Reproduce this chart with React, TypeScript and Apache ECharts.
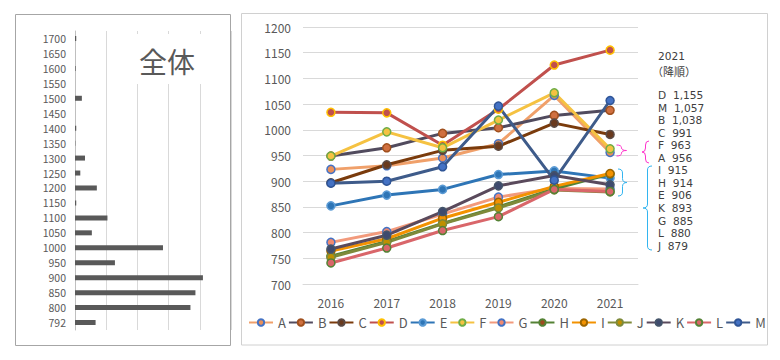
import React, { useEffect, useRef } from 'react';
import * as echarts from 'echarts';

const FONT = '"Noto Sans CJK JP", "Noto Sans", sans-serif';
const LIST_FONT = '"DejaVu Sans", sans-serif';

// ---- line chart data ----
const years = ['2016', '2017', '2018', '2019', '2020', '2021'];
const names = ['A', 'B', 'C', 'D', 'E', 'F', 'G', 'H', 'I', 'J', 'K', 'L', 'M'];
const valuesA = [923, 930, 945, 973, 1067, 956];
const valuesB = [949, 965, 993, 1004, 1028, 1038];
const valuesC = [897, 932, 960, 968, 1013, 991];
const valuesD = [1034, 1033, 970, 1040, 1126, 1155];
const valuesE = [852, 873, 884, 913, 920, 906];
const valuesF = [949, 996, 965, 1019, 1072, 963];
const valuesG = [781, 802, 836, 869, 886, 885];
const valuesH = [754, 783, 818, 850, 885, 914];
const valuesI = [764, 788, 828, 859, 890, 915];
const valuesJ = [752, 781, 817, 848, 883, 879];
const valuesK = [768, 795, 841, 891, 911, 893];
const valuesL = [741, 770, 804, 831, 884, 880];
const valuesM = [896, 900, 928, 1046, 902, 1057];
const seriesValues = [valuesA, valuesB, valuesC, valuesD, valuesE, valuesF, valuesG, valuesH, valuesI, valuesJ, valuesK, valuesL, valuesM];

// ---- histogram (全体) data ----
const histCategories = ['792', '800', '850', '900', '950', '1000', '1050', '1100', '1150', '1200', '1250', '1300', '1350', '1400', '1450', '1500', '1550', '1600', '1650', '1700'];
const histValues = [3.3, 18.5, 19.3, 20.5, 6.4, 14.1, 2.7, 5.2, 0.2, 3.5, 0.85, 1.6, 0.05, 0.2, 0, 1.1, 0, 0.1, 0, 0.2];

// ---- styles ----
const lineColors = ['#F0A06A', '#514B5E', '#7A3B0C', '#C0504D', '#2E75B6', '#F5C242', '#F29A7C', '#548235', '#F39200', '#7E8A3A', '#5A4A5C', '#D9666A', '#3E5B8A'];
const markerFill = ['#E9905A', '#D07040', '#6A3A1E', '#C0504D', '#2E75B6', '#F5C242', '#F08A70', '#9E4A1E', '#F39200', '#BF9000', '#3E4A6E', '#D9666A', '#4472C4'];
const markerBorder = ['#4472C4', '#A0501E', '#5B4A44', '#FFC000', '#5B9BD5', '#70AD47', '#4472C4', '#548235', '#9C6500', '#7E8A3A', '#44546A', '#548235', '#2F5597'];

function braceD(x: number, y0: number, y1: number, ym: number, w: number, dir: number) {
  const h = w / 2;
  const r1 = Math.min(4, (ym - y0) / 2);
  const r2 = Math.min(4, (y1 - ym) / 2);
  const xm = x + dir * h;
  const xt = x + dir * w;
  return `M${x} ${y0} Q${xm} ${y0} ${xm} ${y0 + r1} L${xm} ${ym - r1} Q${xm} ${ym} ${xt} ${ym} Q${xm} ${ym} ${xm} ${ym + r2} L${xm} ${y1 - r2} Q${xm} ${y1} ${x} ${y1}`;
}

let registered = false;
function registerBraces() {
  if (registered) return;
  registered = true;
  echarts.graphic.registerShape('bracePinkR', echarts.graphic.extendPath(braceD(616.5, 145, 156, 150.5, 10, 1), {}) as any);
  echarts.graphic.registerShape('bracePinkL', echarts.graphic.extendPath(braceD(649, 141, 163, 152, 7, -1), {}) as any);
  echarts.graphic.registerShape('braceBlueR', echarts.graphic.extendPath(braceD(618, 169, 196, 182.5, 9, 1), {}) as any);
  echarts.graphic.registerShape('braceBlueL', echarts.graphic.extendPath(braceD(652, 166, 250, 208, 9, -1), {}) as any);
}

export default function App() {
  const ref = useRef<HTMLDivElement>(null);
  useEffect(() => {
    if (!ref.current) return;
    registerBraces();
    const chart = echarts.init(ref.current, undefined, { renderer: 'svg' });

    const ranked = names
      .map((n, i) => ({ n, v: seriesValues[i][seriesValues[i].length - 1] }))
      .sort((a, b) => b.v - a.v);

    const rankTexts = ranked.map((r, i) => ({
      type: 'text',
      x: 658,
      y: 95 + i * 12.55,
      z: 50,
      style: {
        text: `${r.n}\u00A0\u00A0${r.v.toLocaleString('en-US')}`,
        fill: '#404040',
        font: `10.6px ${LIST_FONT}`,
        verticalAlign: 'middle',
      },
    }));

    const lineSeries = names.map((n, i) => ({
      name: n,
      type: 'line',
      xAxisIndex: 1,
      yAxisIndex: 1,
      data: seriesValues[i],
      symbol: 'circle',
      symbolSize: 8,
      lineStyle: { color: lineColors[i], width: 3 },
      itemStyle: { color: markerFill[i], borderColor: markerBorder[i], borderWidth: 1.5 },
      emphasis: { disabled: true },
    }));

    chart.setOption({
      animation: false,
      textStyle: { fontFamily: FONT },
      grid: [
        { left: 75, top: 31, width: 156, height: 299 },
        { left: 303, top: 27, width: 335, height: 257 },
      ],
      xAxis: [
        {
          gridIndex: 0, type: 'value', min: 0, max: 25, interval: 5,
          axisLabel: { show: false }, axisLine: { show: false }, axisTick: { show: false },
          splitLine: { lineStyle: { color: '#D9D9D9', width: 1 } },
        },
        {
          gridIndex: 1, type: 'category', data: years, boundaryGap: true,
          axisLine: { lineStyle: { color: '#D9D9D9', width: 1 } }, axisTick: { show: false },
          axisLabel: { color: '#595959', fontSize: 12, margin: 12, fontFamily: FONT },
        },
      ],
      yAxis: [
        {
          gridIndex: 0, type: 'category', data: histCategories,
          axisLine: { lineStyle: { color: '#BFBFBF' } },
          axisTick: { lineStyle: { color: '#BFBFBF' }, length: 4 },
          axisLabel: { color: '#595959', fontSize: 10.5, margin: 9, fontFamily: FONT },
          splitLine: { show: false },
        },
        {
          gridIndex: 1, type: 'value', min: 700, max: 1200, interval: 50,
          axisLine: { show: false }, axisTick: { show: false },
          axisLabel: { color: '#595959', fontSize: 12, margin: 12, fontFamily: FONT, formatter: (v: number) => String(v) },
          splitLine: { lineStyle: { color: '#D9D9D9', width: 1 } },
        },
      ],
      legend: {
        data: names, left: 248, top: 316, width: 530, itemWidth: 24, itemHeight: 8, itemGap: 2, padding: 0,
        textStyle: { color: '#595959', fontSize: 13, fontFamily: FONT },
      },
      series: [
        {
          type: 'bar', xAxisIndex: 0, yAxisIndex: 0, data: histValues, barWidth: 5,
          itemStyle: { color: '#595959' }, emphasis: { disabled: true },
        },
        ...lineSeries,
      ],
      graphic: [
        { type: 'rect', z: 40, shape: { x: 15.5, y: 14.5, width: 215, height: 331 }, style: { fill: 'none', stroke: '#A6A6A6', lineWidth: 1 } },
        { type: 'rect', z: 40, shape: { x: 241.5, y: 13.5, width: 526, height: 331.5 }, style: { fill: 'none', stroke: '#D0D0D0', lineWidth: 1 } },
        { type: 'rect', z: 45, shape: { x: 118, y: 34, width: 100, height: 50 }, style: { fill: '#FFFFFF' } },
        { type: 'text', z: 50, x: 167, y: 61, style: { text: '全体', fill: '#595959', font: `28px ${FONT}`, align: 'center', verticalAlign: 'middle' } },
        { type: 'text', z: 50, x: 658, y: 56, style: { text: '2021', fill: '#404040', font: `10.6px ${LIST_FONT}`, verticalAlign: 'middle' } },
        { type: 'text', z: 50, x: 652, y: 70.5, style: { text: '（降順）', fill: '#404040', font: `11px ${FONT}`, verticalAlign: 'middle' } },
        ...rankTexts,
        { type: 'bracePinkR', z: 50, style: { fill: 'none', stroke: '#FF33CC', lineWidth: 1 } },
        { type: 'bracePinkL', z: 50, style: { fill: 'none', stroke: '#FF33CC', lineWidth: 1 } },
        { type: 'braceBlueR', z: 50, style: { fill: 'none', stroke: '#33B5F0', lineWidth: 1 } },
        { type: 'braceBlueL', z: 50, style: { fill: 'none', stroke: '#33B5F0', lineWidth: 1 } },
      ],
    });
    return () => chart.dispose();
  }, []);
  return <div ref={ref} style={{ position: 'fixed', left: 0, top: 0, width: 780, height: 360, background: '#FFFFFF' }} />;
}
